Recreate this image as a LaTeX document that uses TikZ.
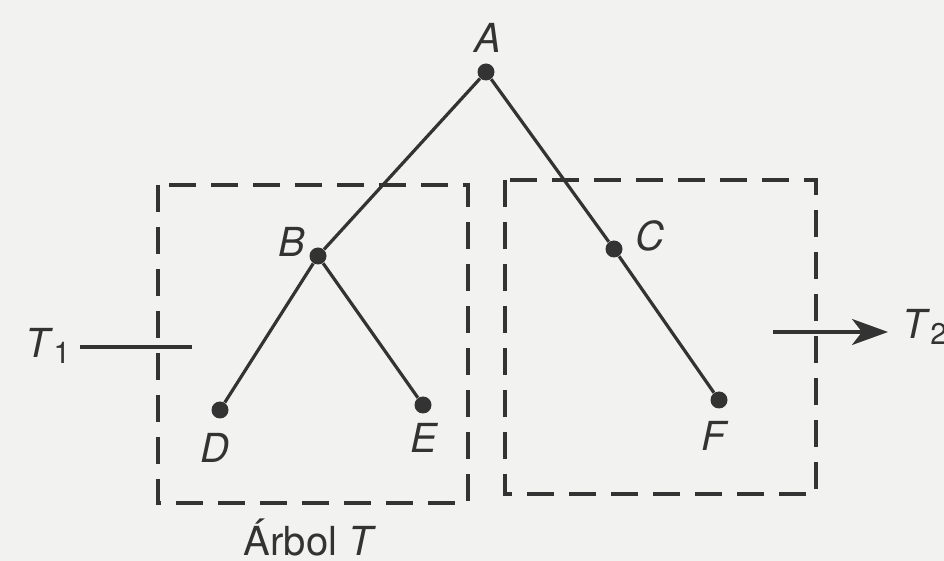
\documentclass[tikz,border=0pt]{standalone}
\usepackage{fontspec}
\setmainfont{TeX Gyre Heros}
\usepackage{xcolor}
\usetikzlibrary{arrows.meta,positioning}
\definecolor{ink}{HTML}{333333}
\definecolor{paper}{HTML}{F2F2F0}
\newcommand{\sub}[1]{\raisebox{-0.3ex}{\fontsize{15}{15}\selectfont #1}}

\begin{document}
\begin{tikzpicture}[x=0.5pt, y=-0.5pt, >=Stealth, font=\fontsize{20}{24}\selectfont,
    dot/.style={circle, fill=ink, draw=none, minimum size=8.5pt, inner sep=0pt},
    lab/.style={text=ink, inner sep=1pt},
    edge/.style={draw=ink, line width=1.6pt},
    subtree/.style={draw=ink, line width=1.8pt, dash pattern=on 13.5pt off 7.5pt}]
    \fill[paper] (0,0) rectangle (944,561);
    \useasboundingbox (0,0) rectangle (944,561);
    % subtrees
    \draw[subtree] (158,185) rectangle (468,503);
    \draw[subtree] (505,180) rectangle (816,494);
    % tree nodes
    \node[dot] (A) at (486,72) {};
    \node[dot] (B) at (318,256) {};
    \node[dot] (C) at (614,249) {};
    \node[dot] (D) at (220,410) {};
    \node[dot] (E) at (423,405) {};
    \node[dot] (F) at (719,400) {};
    \node[lab] (lA) at (488,38) {\textit{A}};
    \node[lab] (lB) at (292,242) {\textit{B}};
    \node[lab] (lC) at (650,236) {\textit{C}};
    \node[lab] (lD) at (215,448) {\textit{D}};
    \node[lab] (lE) at (425,438) {\textit{E}};
    \node[lab] (lF) at (715,436) {\textit{F}};
    \draw[edge] (A) -- (B);
    \draw[edge] (A) -- (C);
    \draw[edge] (C) -- (F);
    \draw[edge] (B) -- (D);
    \draw[edge] (B) -- (E);
    % T1 and T2
    \node[lab] (T1) at (48,346) {\textit{T}\sub{1}};
    \coordinate (t1start) at (80,347);
    \coordinate (t1end) at (192,347);
    \draw[edge] (t1start) -- (t1end);
    \coordinate (t2start) at (773,332);
    \coordinate (t2end) at (888,332);
    \node[lab, anchor=west] (T2) at (900,327) {\textit{T}\sub{2}};
    \draw[edge, -{Stealth[length=18pt, width=13pt, inset=5pt]}] (t2start) -- (t2end);
    \node[lab] (tree) at (310,537) {Árbol \textit{T}};
\end{tikzpicture}
\end{document}
